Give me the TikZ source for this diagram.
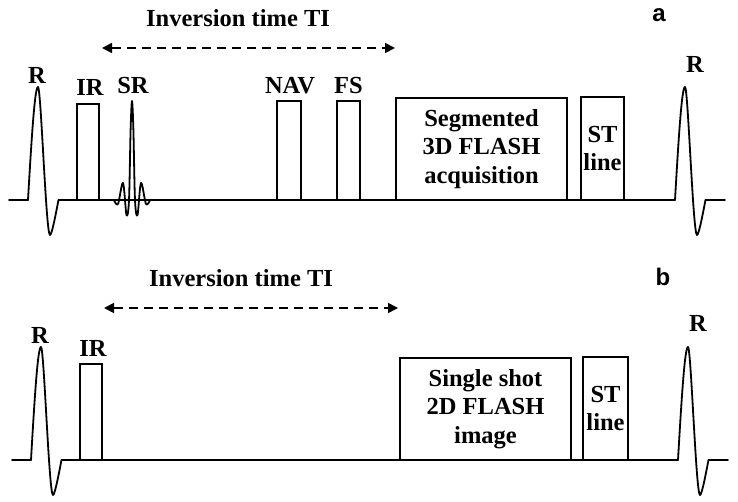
\documentclass[tikz,border=0pt]{standalone}
\usepackage{fontspec}
\setmainfont{Liberation Serif}
\newfontfamily\labsans{Liberation Sans}
\usetikzlibrary{arrows.meta}
\begin{document}
\begin{tikzpicture}[x=1pt,y=-1pt,
  wave/.style={line width=1.8pt, line join=round, line cap=round},
  pulse/.style={draw, line width=1.8pt, inner sep=0pt},
  lab/.style={font=\bfseries\fontsize{24.5}{28.5}\selectfont, inner sep=0pt},
  boxtxt/.style={pulse, lab, align=center},
  panel/.style={font=\labsans\bfseries\fontsize{24}{28}\selectfont, inner sep=0pt},
  tiarrow/.style={line width=1.8pt, dash pattern=on 9pt off 6pt,
    {Triangle[length=10pt,width=10pt]}-{Triangle[length=10pt,width=10pt]}},
  rwave/.pic={\draw[wave] (-10,113) .. controls (-6,43) and (-3,0) .. (0,0)
     .. controls (3,0) and (8,148) .. (12,148)
     .. controls (14,148) and (18.5,123) .. (20.5,113);}
]
\useasboundingbox (0,0) rectangle (738,502);

% ---------------- panel a ----------------
\node[panel] (pa) at (659,15) {a};
\node[lab] (tia) at (238,18) {Inversion time TI};
\coordinate (tia1) at (102,48);
\coordinate (tia2) at (395,48);
\draw[tiarrow] (tia1) -- (tia2);

\draw[wave] (9,200) -- (28,200);
\pic at (38,87) {rwave};
\draw[wave] (58.5,200) -- (675,200);
\pic at (685,87) {rwave};
\draw[wave] (705.5,200) -- (725,200);

\node[lab] (ra1) at (37,75) {R};
\node[lab] (ra2) at (695,64) {R};

\node[pulse, minimum width=22pt, minimum height=96pt] (ira) at (88,152) {};
\node[lab] (iral) at (90,87) {IR};

\draw[wave] plot[smooth, tension=0.55] coordinates {(114,200) (118,204) (123,183) (126.5,215) (129,200) (130.6,130) (132,101) (133.4,130) (135,200) (137.5,215) (141,183) (146,204) (150,200)};
\node[lab] (srl) at (133,86) {SR};

\node[pulse, minimum width=24pt, minimum height=99pt] (nav) at (289,150.5) {};
\node[lab] (navl) at (290,85.5) {NAV};
\node[pulse, minimum width=23pt, minimum height=99pt] (fs) at (348.5,150.5) {};
\node[lab] (fsl) at (348.5,85.5) {FS};

\node[boxtxt, minimum width=171pt, minimum height=102pt] (acq) at (481.5,149) {Segmented\\3D FLASH\\acquisition};
\node[boxtxt, minimum width=43pt, minimum height=103pt] (sta) at (602.5,148.5) {ST\\line};

% ---------------- panel b ----------------
\node[panel] (pb) at (663,277) {b};
\node[lab] (tib) at (241,278) {Inversion time TI};
\coordinate (tib1) at (104,308);
\coordinate (tib2) at (398,308);
\draw[tiarrow] (tib1) -- (tib2);

\draw[wave] (12,460) -- (31,460);
\pic at (41,347) {rwave};
\draw[wave] (61.5,460) -- (678,460);
\pic at (688,347) {rwave};
\draw[wave] (708.5,460) -- (728,460);

\node[lab] (rb1) at (40,335) {R};
\node[lab] (rb2) at (698,323) {R};

\node[pulse, minimum width=22pt, minimum height=96pt] (irb) at (91,412) {};
\node[lab] (irbl) at (93,348) {IR};

\node[boxtxt, minimum width=171pt, minimum height=102pt] (img) at (485.5,409) {Single shot\\2D FLASH\\image};
\node[boxtxt, minimum width=45pt, minimum height=103pt] (stb) at (605.5,408.5) {ST\\line};
\end{tikzpicture}
\end{document}
